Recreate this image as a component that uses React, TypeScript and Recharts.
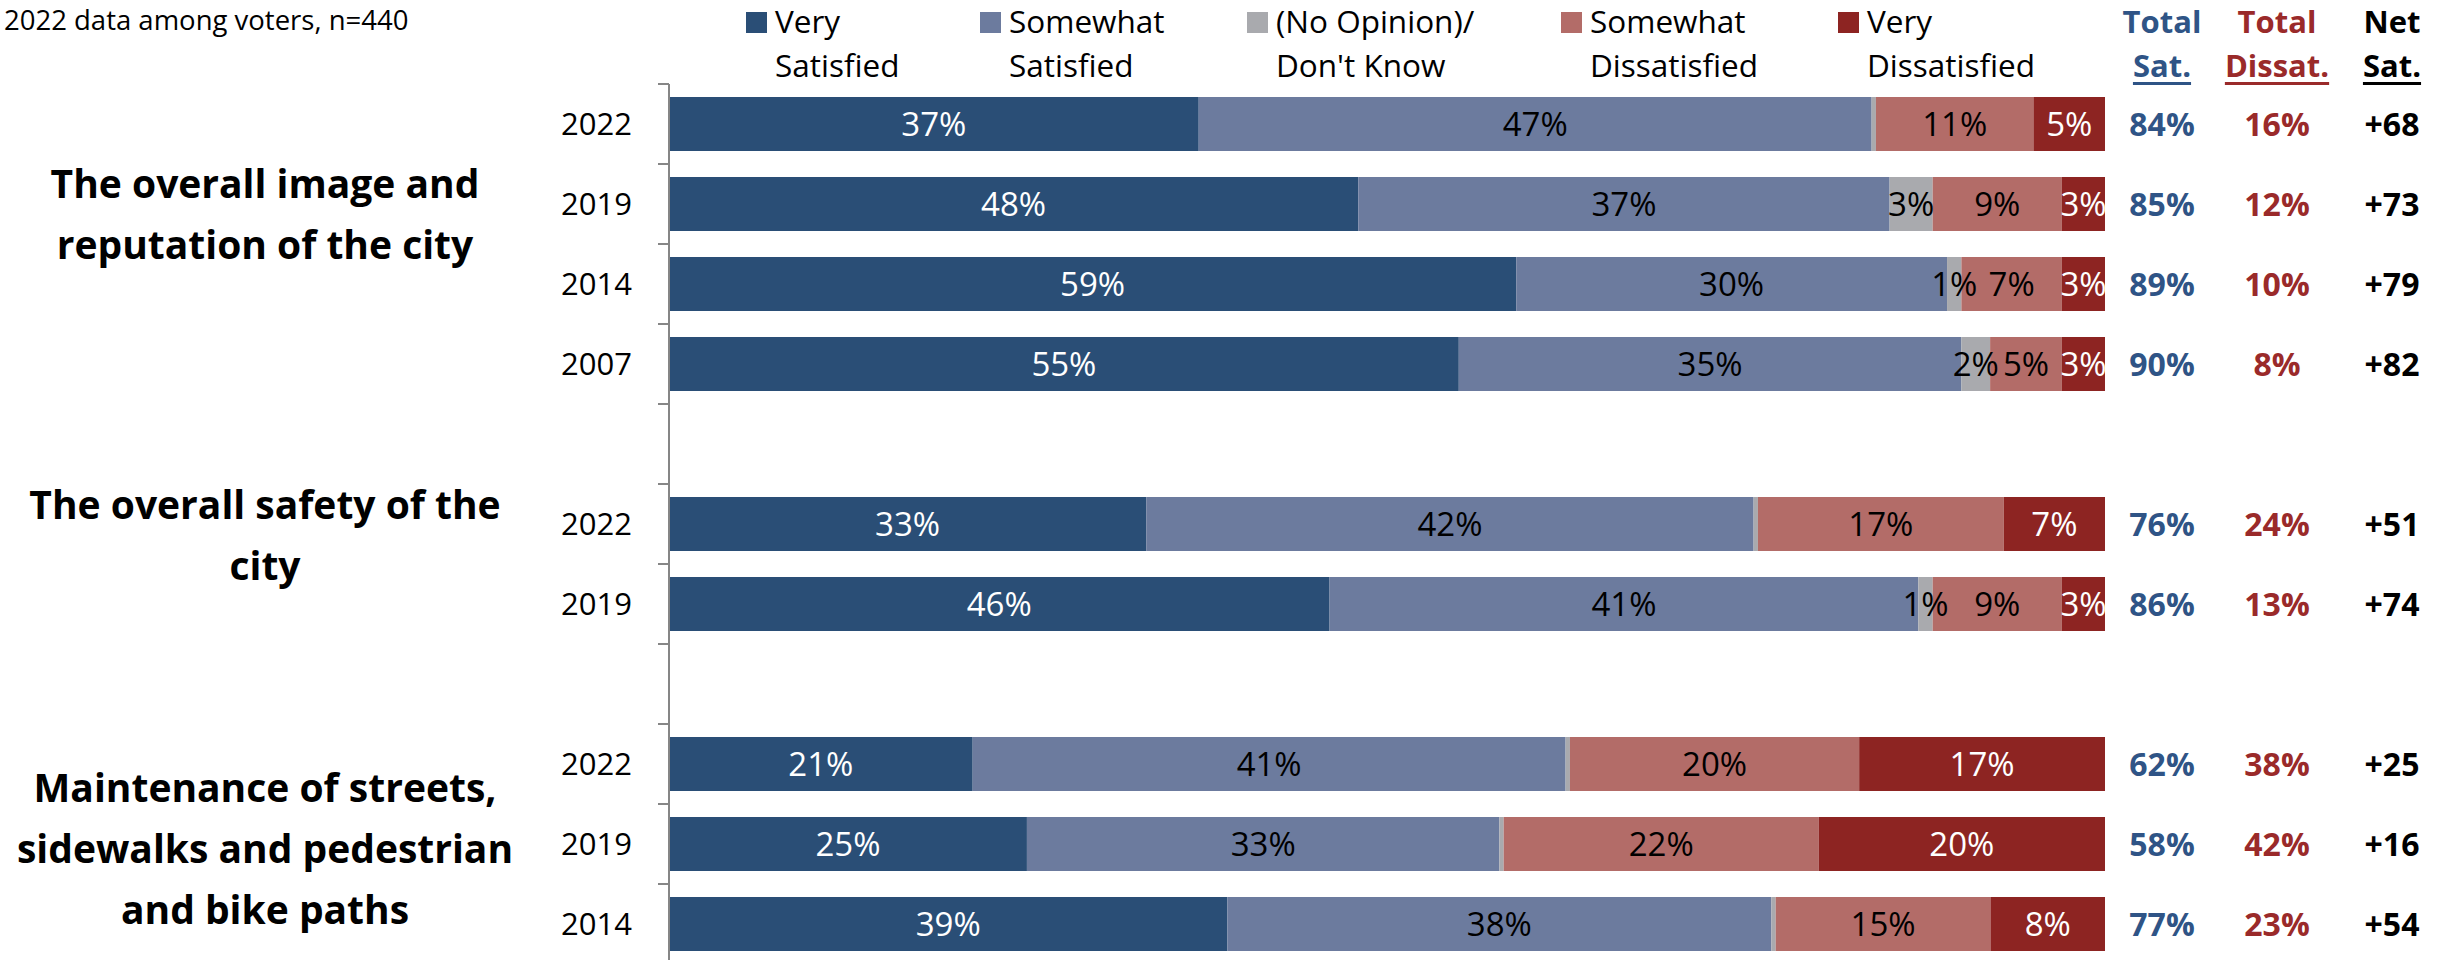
import React from 'react';
import { BarChart, Bar, XAxis, YAxis, LabelList } from 'recharts';

const categories = ['img-2022', 'img-2019', 'img-2014', 'img-2007', 'gap-1', 'safe-2022', 'safe-2019', 'gap-2', 'maint-2022', 'maint-2019', 'maint-2014'];
const yearLabels = ['2022', '2019', '2014', '2007', '', '2022', '2019', '', '2022', '2019', '2014'];

const verySat = [37, 48, 59, 55, 0, 33, 46, 0, 21, 25, 39];
const somewhatSat = [47, 37, 30, 35, 0, 42, 41, 0, 41, 33, 38];
const noOpinion = [0.3, 3, 1, 2, 0, 0.3, 1, 0, 0.3, 0.3, 0.3];
const somewhatDis = [11, 9, 7, 5, 0, 17, 9, 0, 20, 22, 15];
const veryDis = [5, 3, 3, 3, 0, 7, 3, 0, 17, 20, 8];

const totalSat = ['84%', '85%', '89%', '90%', '', '76%', '86%', '', '62%', '58%', '77%'];
const totalDissat = ['16%', '12%', '10%', '8%', '', '24%', '13%', '', '38%', '42%', '23%'];
const netSat = ['+68', '+73', '+79', '+82', '', '+51', '+74', '', '+25', '+16', '+54'];

const legendLines = [
  ['Very', 'Satisfied'],
  ['Somewhat', 'Satisfied'],
  ['(No Opinion)/', "Don't Know"],
  ['Somewhat', 'Dissatisfied'],
  ['Very', 'Dissatisfied'],
];

const groupLabels = [
  ['The overall image and', 'reputation of the city'],
  ['The overall safety of the', 'city'],
  ['Maintenance of streets,', 'sidewalks and pedestrian', 'and bike paths'],
];

const FONT = "'Open Sans', 'Noto Sans', sans-serif";
const BLUE_TXT = '#2F5486';
const RED_TXT = '#9A2A2A';

const series = [
  { key: 'verySat', color: '#2A4E76', text: '#ffffff' },
  { key: 'somewhatSat', color: '#6C7B9E', text: '#000000' },
  { key: 'noOpinion', color: '#A9AAAE', text: '#000000' },
  { key: 'somewhatDis', color: '#B36C68', text: '#000000' },
  { key: 'veryDis', color: '#8D2422', text: '#ffffff' },
];

const data = categories.map((key, i) => ({
  key,
  year: yearLabels[i],
  verySat: verySat[i],
  somewhatSat: somewhatSat[i],
  noOpinion: noOpinion[i],
  somewhatDis: somewhatDis[i],
  veryDis: veryDis[i],
  totalSat: totalSat[i],
  totalDissat: totalDissat[i],
  netSat: netSat[i],
}));

const YearTick = (props: any) => {
  const { x, y, payload, index } = props;
  const half = payload && payload.offset ? payload.offset : 40;
  const label = yearLabels[index ?? categories.indexOf(payload.value)] || '';
  return (
    <g>
      <line x1={x - 11} x2={x} y1={y - half} y2={y - half} stroke="#868686" strokeWidth={2} />
      <text x={x - 37} y={y + 11} textAnchor="end" fontFamily={FONT} fontSize={31} fill="#000">
        {label}
      </text>
    </g>
  );
};

const sideColumn = (dx: number, color: string) => (props: any) => {
  const { x, y, width, height, value } = props;
  if (value == null || value === '') return null;
  return (
    <text
      x={Number(x) + Number(width) + dx}
      y={Number(y) + Number(height) / 2 + 11.5}
      textAnchor="middle"
      fontFamily={FONT}
      fontWeight={700}
      fontSize={32}
      fill={color}
    >
      {value}
    </text>
  );
};

const fmt = (v: any) => (typeof v === 'number' && v >= 1 ? `${v}%` : '');

const legendX = [746, 980, 1247, 1561, 1838];
const headers = [
  { top: 'Total', bottom: 'Sat.', cx: 2162, color: BLUE_TXT },
  { top: 'Total', bottom: 'Dissat.', cx: 2277, color: RED_TXT },
  { top: 'Net', bottom: 'Sat.', cx: 2392, color: '#000000' },
];
const groupTops = [198, 519, 802];

export default function App() {
  return (
    <div style={{ position: 'absolute', left: 0, top: 0, width: 2443, height: 960, overflow: 'hidden', background: '#fff' }}>
      <BarChart
        width={2443}
        height={964}
        data={data}
        layout="vertical"
        stackOffset="expand"
        barSize={54}
        margin={{ top: 84, right: 338, bottom: 0, left: 0 }}
      >
        <XAxis type="number" hide domain={[0, 1]} />
        <YAxis
          type="category"
          dataKey="key"
          width={669}
          interval={0}
          tickSize={0}
          tickMargin={0}
          tickLine={false}
          axisLine={{ stroke: '#868686', strokeWidth: 2 }}
          tick={<YearTick />}
        />
        {series.map((s) => (
          <Bar key={s.key} dataKey={s.key} stackId="a" fill={s.color} isAnimationActive={false}>
            <LabelList
              dataKey={s.key}
              position="center"
              formatter={fmt}
              fill={s.text}
              fontSize={33}
              fontFamily={FONT}
            />
            {s.key === 'veryDis' && <LabelList dataKey="totalSat" content={sideColumn(57, BLUE_TXT)} />}
            {s.key === 'veryDis' && <LabelList dataKey="totalDissat" content={sideColumn(172, RED_TXT)} />}
            {s.key === 'veryDis' && <LabelList dataKey="netSat" content={sideColumn(287, '#000000')} />}
          </Bar>
        ))}
      </BarChart>

      <svg width={2443} height={960} style={{ position: 'absolute', left: 0, top: 0, pointerEvents: 'none' }}>
        <text x={4} y={30} fontFamily={FONT} fontSize={27.5} fill="#000">
          2022 data among voters, n=440
        </text>
        {legendLines.map((lines, i) => (
          <g key={i}>
            <rect x={legendX[i]} y={12} width={21} height={21} fill={series[i].color} />
            <text x={legendX[i] + 29} y={33} fontFamily={FONT} fontSize={31.5} fill="#000">
              {lines[0]}
            </text>
            <text x={legendX[i] + 29} y={77} fontFamily={FONT} fontSize={31.5} fill="#000">
              {lines[1]}
            </text>
          </g>
        ))}
        {groupLabels.map((lines, g) =>
          lines.map((ln, j) => (
            <text
              key={`${g}-${j}`}
              x={265}
              y={groupTops[g] + j * 61}
              textAnchor="middle"
              fontFamily={FONT}
              fontWeight={700}
              fontSize={39}
              fill="#000"
            >
              {ln}
            </text>
          ))
        )}
      </svg>

      {headers.map((h, i) => (
        <div
          key={i}
          style={{
            position: 'absolute',
            left: h.cx - 100,
            top: -1,
            width: 200,
            textAlign: 'center',
            fontFamily: FONT,
            fontWeight: 700,
            fontSize: 31,
            lineHeight: '44px',
            color: h.color,
          }}
        >
          <div>{h.top}</div>
          <div>
            <span style={{ textDecoration: 'underline', textDecorationThickness: '3px', textUnderlineOffset: '5px' }}>
              {h.bottom}
            </span>
          </div>
        </div>
      ))}
    </div>
  );
}
